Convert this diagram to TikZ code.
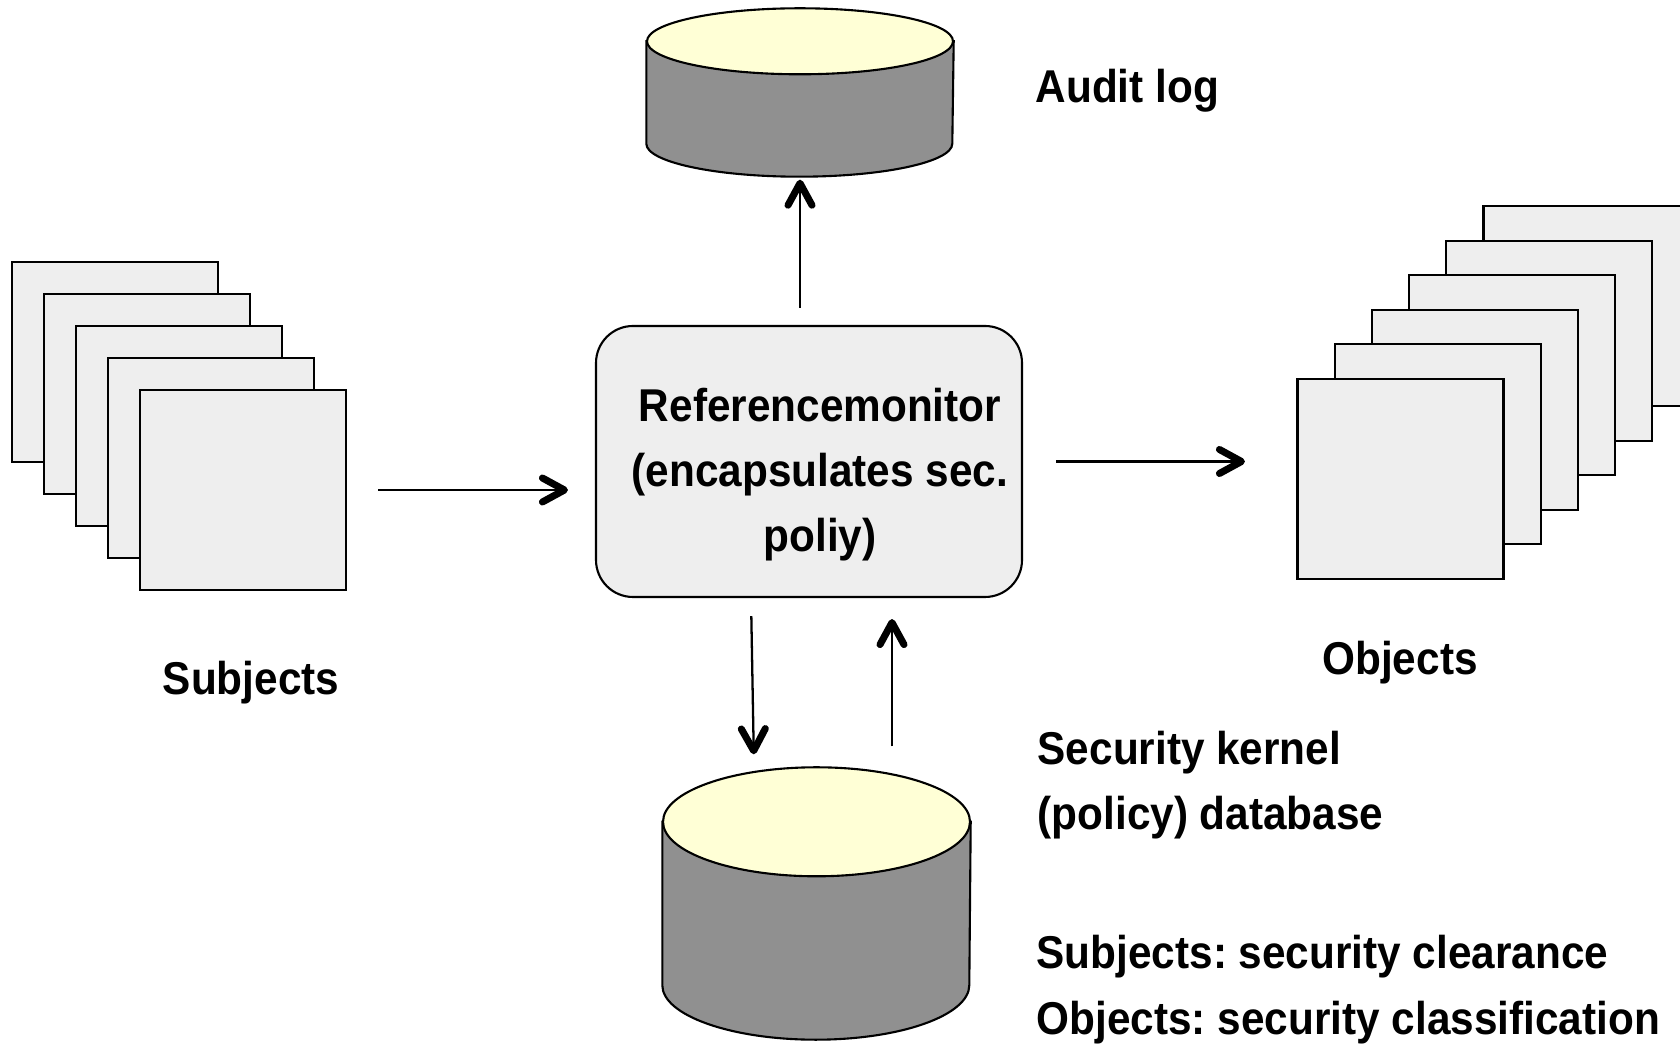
\documentclass[tikz,border=0pt]{standalone}
\usepackage{fontspec}
\newfontfamily\lblfont{Liberation Sans}[FakeStretch=0.92]
\usetikzlibrary{arrows.meta}
\definecolor{sheetgray}{HTML}{EEEEEE}
\definecolor{dbgray}{HTML}{909090}
\definecolor{dbyellow}{HTML}{FFFFD6}
\frenchspacing

\begin{document}
\begin{tikzpicture}[
  sheet/.style={draw, line width=0.6pt, fill=sheetgray, minimum width=2.06cm, minimum height=2cm, inner sep=0},
  monitorbox/.style={draw, line width=0.6pt, fill=sheetgray, rounded corners=0.37cm, inner sep=0},
  dbbox/.style={inner sep=0},
  dbside/.style={draw, line width=0.6pt, fill=dbgray},
  dbtop/.style={draw, line width=0.6pt, fill=dbyellow},
  lbl/.style={inner sep=0, font=\lblfont\bfseries\fontsize{0.46cm}{0.65cm}\selectfont},
  arr/.style={-{Straight Barb[length=0.22cm, width=0.24cm, line width=2pt, round]}, line width=0.65pt}
]
\useasboundingbox (0,0) rectangle (16.8,10.48);

% subjects stack
\foreach \i in {1,...,5}
  \node[sheet] (s\i) at ({0.83+0.32*\i}, {7.18-0.32*\i}) {};
% objects stack, back to front
\foreach \i in {5,...,0}
  \node[sheet] (o\i) at ({14.005+0.372*\i}, {5.69+0.346*\i}) {};

\node[monitorbox, minimum width=4.26cm, minimum height=2.71cm,
  label={[lbl, align=center, xshift=0.11cm, yshift=-0.13cm]center:Referencemonitor\\(encapsulates sec.\\poliy)}]
  (monitor) at (8.09,5.865) {};

% audit log cylinder
\node[dbbox, minimum width=3.06cm, minimum height=1.67cm] (audit) at (8.00,9.555) {};
\filldraw[dbside] ([yshift=-0.33cm]audit.north west) -- ([yshift=0.33cm]audit.south west)
  arc[start angle=180, end angle=360, x radius=1.53cm, y radius=0.33cm]
  -- ([yshift=-0.33cm]audit.north east) -- cycle;
\filldraw[dbtop] ([yshift=-0.33cm]audit.north) ellipse[x radius=1.53cm, y radius=0.33cm];

% policy database cylinder
\node[dbbox, minimum width=3.07cm, minimum height=2.71cm] (policy) at (8.165,1.445) {};
\filldraw[dbside] ([yshift=-0.545cm]policy.north west) -- ([yshift=0.545cm]policy.south west)
  arc[start angle=180, end angle=360, x radius=1.535cm, y radius=0.545cm]
  -- ([yshift=-0.545cm]policy.north east) -- cycle;
\filldraw[dbtop] ([yshift=-0.545cm]policy.north) ellipse[x radius=1.535cm, y radius=0.545cm];

% labels
\node[lbl, anchor=base west] (auditlbl) at (10.35,9.45) {Audit log};
\node[lbl, anchor=base] (subjlbl) at (2.51,3.53) {Subjects};
\node[lbl, anchor=base] (objlbl) at (14.00,3.73) {Objects};
\node[lbl, anchor=base west, align=left] (kernel) at (10.37,2.18) {Security kernel\\(policy) database};
\node[lbl, anchor=base west, align=left, font=\lblfont\bfseries\fontsize{0.46cm}{0.66cm}\selectfont]
  (levels) at (10.36,0.13) {Subjects: security clearance\\Objects: security classification};

% connectors
\draw[arr, shorten <=0.31cm, shorten >=0.27cm] (s5.east) -- (s5.east -| monitor.west);
\draw[arr, shorten <=0.33cm, shorten >=0.515cm] (monitor.east) -- (monitor.east -| o0.west);
\draw[arr, shorten <=0.17cm, shorten >=0.03cm] (monitor.north -| audit.south) -- (audit.south);
\draw[arr, shorten <=0.18cm, shorten >=0.13cm] ([xshift=-0.58cm]monitor.south) -- ([xshift=-0.625cm]policy.north);
\draw[arr, shorten <=0.21cm, shorten >=0.21cm] ([xshift=0.755cm]policy.north) -- ([xshift=0.83cm]monitor.south);
\end{tikzpicture}
\end{document}
